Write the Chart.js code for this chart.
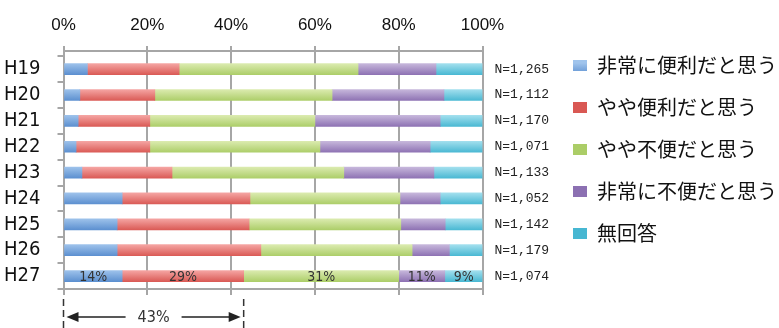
<!DOCTYPE html>
<html>
<head>
<meta charset="utf-8">
<script src="https://cdn.jsdelivr.net/npm/chart.js@4"></script>
<style>
  html, body { margin: 0; padding: 0; background: #fff; }
</style>
</head>
<body>
<canvas id="myChart" width="779" height="328"></canvas>
<script>
// Data
  const periods = ['H19', 'H20', 'H21', 'H22', 'H23', 'H24', 'H25', 'H26', 'H27'];
  const respondents = ['N=1,265', 'N=1,112', 'N=1,170', 'N=1,071', 'N=1,133', 'N=1,052', 'N=1,142', 'N=1,179', 'N=1,074'];
  const answers = ['非常に便利だと思う', 'やや便利だと思う', 'やや不便だと思う', '非常に不便だと思う', '無回答'];

  const veryConvenient     = [5.7, 3.9, 3.5, 3.0, 4.4, 14.0, 12.8, 12.8, 14];
  const fairlyConvenient   = [21.9, 17.9, 17.1, 17.6, 21.5, 30.5, 31.5, 34.3, 29];
  const fairlyInconvenient = [42.7, 42.3, 39.4, 40.6, 41.0, 35.8, 36.2, 36.1, 37];
  const veryInconvenient   = [18.6, 26.7, 29.9, 26.3, 21.5, 9.6, 10.6, 8.9, 11];
  const noAnswer           = [11.1, 9.2, 10.1, 12.5, 11.6, 10.1, 8.9, 7.9, 9];

  const latestLabels = ['14%', '29%', '31%', '11%', '9%'];
  const xTicks = [0, 20, 40, 60, 80, 100];

// Style
  const seriesValues = [veryConvenient, fairlyConvenient, fairlyInconvenient, veryInconvenient, noAnswer];
  const colors = [
    ['#a0c4ec', '#5a8ecf', '#6f9fd8'],
    ['#f6a8a6', '#d95853', '#e8716d'],
    ['#ddecb2', '#abcd67', '#c1dc8a'],
    ['#c9badd', '#8c70b2', '#a68cc6'],
    ['#a6e1ef', '#47b7d2', '#66c6dd'],
  ];
  const narrow = "'Liberation Sans Narrow', 'Arial Narrow', 'DejaVu Sans Condensed', Roboto, sans-serif";
  const gridGray = '#a6a6a6';
  const padRight = -8;

  function barFill(i) {
    return function (ctx) {
      const yScale = ctx.chart.scales.y;
      if (ctx.type !== 'data' || !yScale) return colors[i][2];
      const cy = yScale.getPixelForValue(ctx.dataIndex);
      if (!isFinite(cy)) return colors[i][2];
      const g = ctx.chart.ctx.createLinearGradient(0, cy - 6, 0, cy + 6);
      g.addColorStop(0, colors[i][0]);
      g.addColorStop(1, colors[i][1]);
      return g;
    };
  }

  const rowTicks = s => { s.ticks = periods.map((p, i) => ({ value: i })); };
  const pctTicks = s => { s.ticks = xTicks.map(v => ({ value: v })); };

// Labels inside the last bar
  const latestLabelPlugin = {
    id: 'latestLabels',
    afterDatasetsDraw(chart) {
      const ctx = chart.ctx;
      const last = periods.length - 1;
      ctx.save();
      ctx.font = '14px ' + narrow;
      ctx.fillStyle = '#333';
      ctx.textAlign = 'center';
      ctx.textBaseline = 'middle';
      chart.data.datasets.forEach((ds, i) => {
        const bar = chart.getDatasetMeta(i).data[last];
        const p = bar.getProps(['x', 'y', 'base'], true);
        ctx.fillText(latestLabels[i], (p.x + p.base) / 2, p.y + 1);
      });
      ctx.restore();
    }
  };

// 43% bracket under the last bar
  const bracketPlugin = {
    id: 'bracket',
    afterDraw(chart) {
      const ctx = chart.ctx;
      const x = chart.scales.x;
      const area = chart.chartArea;
      const last = periods.length - 1;
      const total = veryConvenient[last] + fairlyConvenient[last];
      const x0 = x.getPixelForValue(0);
      const x1 = x.getPixelForValue(total);
      const yArrow = area.bottom + 28;
      const label = Math.round(total) + '%';

      ctx.save();
      ctx.strokeStyle = '#333';
      ctx.lineWidth = 1.5;
      ctx.setLineDash([7, 4]);
      [x0, x1].forEach(px => {
        ctx.beginPath();
        ctx.moveTo(px, area.bottom + 10);
        ctx.lineTo(px, chart.height);
        ctx.stroke();
      });
      ctx.setLineDash([]);

      ctx.font = '16px ' + narrow;
      const gap = ctx.measureText(label).width / 2 + 12;
      const mid = (x0 + x1) / 2;
      ctx.strokeStyle = '#222';
      ctx.beginPath();
      ctx.moveTo(x0 + 12, yArrow);
      ctx.lineTo(mid - gap, yArrow);
      ctx.moveTo(mid + gap, yArrow);
      ctx.lineTo(x1 - 12, yArrow);
      ctx.stroke();

      ctx.fillStyle = '#222';
      ctx.beginPath();
      ctx.moveTo(x0 + 3, yArrow);
      ctx.lineTo(x0 + 15, yArrow - 5);
      ctx.lineTo(x0 + 15, yArrow + 5);
      ctx.closePath();
      ctx.fill();
      ctx.beginPath();
      ctx.moveTo(x1 - 3, yArrow);
      ctx.lineTo(x1 - 15, yArrow - 5);
      ctx.lineTo(x1 - 15, yArrow + 5);
      ctx.closePath();
      ctx.fill();

      ctx.fillStyle = '#333';
      ctx.textAlign = 'center';
      ctx.textBaseline = 'middle';
      ctx.fillText(label, mid, yArrow + 1);
      ctx.restore();
    }
  };

// Config
  const data = {
    datasets: answers.map((label, i) => ({
      label: label,
      data: seriesValues[i].map((v, j) => ({ x: v, y: j })),
      backgroundColor: barFill(i),
      borderWidth: 0,
      barThickness: 11,
    }))
  };

  const config = {
    type: 'bar',
    data: data,
    plugins: [latestLabelPlugin, bracketPlugin],
    options: {
      indexAxis: 'y',
      responsive: false,
      animation: false,
      layout: { padding: { top: 4, bottom: 33, left: 0, right: padRight } },
      scales: {
        x: {
          position: 'top',
          stacked: true,
          min: 0,
          max: 100,
          afterBuildTicks: pctTicks,
          ticks: {
            callback: v => v + '%',
            color: '#111',
            padding: 0,
            font: { family: 'Liberation Sans', size: 17, lineHeight: 2.47 }
          },
          grid: { color: gridGray, lineWidth: 2, tickLength: 5 },
          border: { color: gridGray, width: 2 }
        },
        x2: {
          position: 'bottom',
          min: 0,
          max: 100,
          afterBuildTicks: pctTicks,
          ticks: { display: false },
          grid: { color: gridGray, lineWidth: 2, tickLength: 6, drawOnChartArea: false },
          border: { color: gridGray, width: 2 }
        },
        y: {
          type: 'linear',
          position: 'left',
          stacked: true,
          reverse: true,
          offset: false,
          min: -0.7,
          max: 8.5,
          afterBuildTicks: rowTicks,
          afterFit: s => { s.width = 63.5; },
          ticks: {
            autoSkip: false,
            callback: v => periods[v],
            color: '#111',
            padding: 17,
            font: { family: narrow, size: 20 }
          },
          grid: { offset: true, drawOnChartArea: false, color: gridGray, lineWidth: 2, tickLength: 6 },
          border: { color: gridGray, width: 2 }
        },
        y2: {
          type: 'linear',
          position: 'right',
          reverse: true,
          offset: false,
          min: -0.7,
          max: 8.5,
          afterBuildTicks: rowTicks,
          afterFit: s => { s.width = 779 - padRight - s.chart.legend.width - 482.5; },
          ticks: {
            autoSkip: false,
            callback: v => respondents[v],
            color: '#222',
            padding: 12,
            font: { family: "'Liberation Mono', 'DejaVu Sans Mono', monospace", size: 13 }
          },
          grid: { display: false, drawTicks: false },
          border: { display: false }
        }
      },
      plugins: {
        legend: {
          position: 'right',
          maxWidth: 400,
          labels: {
            boxWidth: 14,
            boxHeight: 11,
            padding: 22,
            color: '#111',
            font: { family: "'Noto Sans CJK JP', sans-serif", size: 20 }
          }
        },
        tooltip: { enabled: false }
      }
    }
  };

  const myChart = new Chart(document.getElementById('myChart'), config);
</script>
</body>
</html>
